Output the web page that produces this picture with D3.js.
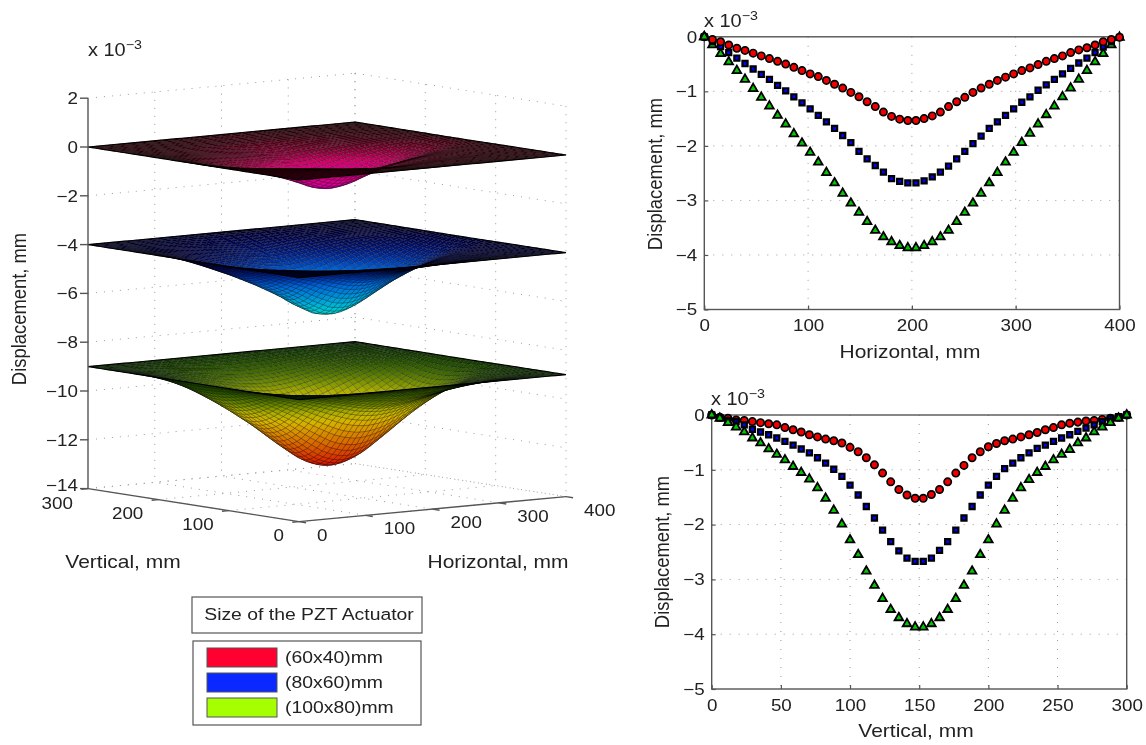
<!DOCTYPE html>
<html><head><meta charset="utf-8">
<style>
html,body{margin:0;padding:0;background:#fff}
svg{display:block;filter:blur(0.7px)}
text{font-family:"Liberation Sans",Arial,sans-serif;fill:#222}
</style>
<script src="https://d3js.org/d3.v7.min.js"></script>
</head><body><svg id="c" width="1146" height="745"></svg>
<script>
// ---- Data (units of 1e-3 mm) ----
const sizeNames = ["(60x40)mm","(80x60)mm","(100x80)mm"];
const legendColors = ["#ff0030","#0a28ff","#a6ff00"];
const legendTitle = "Size of the PZT Actuator";

const horizontalMm = d3.range(52).map(i => i*400/51);
const verticalMm = d3.range(52).map(i => i*300/51);

const horizontal60 = [0,-.05,-.09,-.15,-.21,-.25,-.30,-.35,-.40,-.45,-.50,-.56,-.62,-.68,-.73,-.80,-.87,-.94,-1.02,-1.10,-1.19,-1.28,-1.38,-1.46,-1.51,-1.535,
  -1.535,-1.50,-1.45,-1.38,-1.28,-1.19,-1.11,-1.02,-.94,-.87,-.80,-.74,-.68,-.62,-.57,-.51,-.45,-.40,-.35,-.29,-.24,-.20,-.15,-.09,-.05,-.01];
const horizontal80 = [0,-.09,-.18,-.29,-.39,-.49,-.59,-.69,-.78,-.89,-.99,-1.10,-1.21,-1.32,-1.44,-1.56,-1.68,-1.81,-1.94,-2.10,-2.24,-2.36,-2.48,-2.60,-2.65,-2.68,
  -2.68,-2.64,-2.57,-2.48,-2.37,-2.24,-2.10,-1.96,-1.82,-1.68,-1.56,-1.44,-1.32,-1.20,-1.10,-.98,-.88,-.78,-.68,-.58,-.48,-.39,-.29,-.19,-.09,-.01];
const horizontal100 = [0,-.15,-.31,-.46,-.62,-.78,-.95,-1.11,-1.27,-1.44,-1.60,-1.78,-1.95,-2.12,-2.30,-2.49,-2.68,-2.87,-3.05,-3.22,-3.39,-3.55,-3.67,-3.76,-3.83,-3.87,
  -3.87,-3.83,-3.76,-3.67,-3.55,-3.39,-3.22,-3.05,-2.87,-2.68,-2.49,-2.30,-2.12,-1.94,-1.77,-1.60,-1.43,-1.27,-1.10,-.94,-.78,-.62,-.46,-.31,-.15,-.01];

const vertical60 = [0,-.04,-.06,-.09,-.10,-.12,-.14,-.16,-.18,-.23,-.27,-.31,-.36,-.40,-.44,-.47,-.51,-.59,-.67,-.78,-.91,-1.06,-1.22,-1.36,-1.46,-1.52,
  -1.52,-1.45,-1.36,-1.22,-1.06,-.92,-.78,-.67,-.58,-.52,-.47,-.44,-.40,-.36,-.32,-.27,-.23,-.18,-.15,-.13,-.11,-.10,-.08,-.06,-.04,0];
const vertical80 = [0,-.05,-.10,-.12,-.18,-.26,-.31,-.36,-.42,-.48,-.55,-.62,-.69,-.78,-.88,-.99,-1.12,-1.28,-1.46,-1.67,-1.88,-2.10,-2.31,-2.48,-2.61,-2.67,
  -2.67,-2.61,-2.47,-2.31,-2.10,-1.88,-1.67,-1.46,-1.28,-1.12,-.98,-.88,-.78,-.69,-.61,-.55,-.48,-.42,-.36,-.30,-.24,-.18,-.12,-.06,-.03,0];
const vertical100 = [0,-.06,-.14,-.22,-.31,-.42,-.51,-.62,-.72,-.82,-.94,-1.05,-1.17,-1.33,-1.52,-1.74,-1.99,-2.28,-2.55,-2.85,-3.11,-3.35,-3.55,-3.70,-3.81,-3.87,
  -3.87,-3.81,-3.70,-3.55,-3.35,-3.11,-2.85,-2.55,-2.28,-1.99,-1.74,-1.52,-1.33,-1.18,-1.05,-.94,-.82,-.72,-.63,-.51,-.42,-.31,-.22,-.14,-.06,0];

const surfaceOffsets = [0,-4,-9];
const zTicks = [2,0,-2,-4,-6,-8,-10,-12,-14];
const hTicks3d = [0,100,200,300,400];
const vTicks3d = [0,100,200,300];
const yTicks = [0,-1,-2,-3,-4,-5];
const hTicks2d = [0,100,200,300,400];
const vTicks2d = [0,50,100,150,200,250,300];
// height -> hue of the colormap
const hueStops = [0,-1.5,-4,-5.2,-6.7,-9,-10.3,-12.9];
const hueValues = [345,312,240,212,178,100,60,4];

// ---- Helpers ----
const svg = d3.select("#c");
const XS = 1.14;              // the picture is slightly stretched sideways
const INK = "#555";
function label(x,y,txt,size,anchor){
  return svg.append("text").attr("transform",`translate(${x},${y}) scale(${XS},1)`)
    .attr("text-anchor",anchor||"middle").attr("font-size",size).text(txt);
}
function vlabel(x,y,txt,size){
  return svg.append("text").attr("transform",`translate(${x},${y}) rotate(-90) scale(1,${XS})`)
    .attr("text-anchor","middle").attr("font-size",size).text(txt);
}
function exponent(x,y){
  const t = label(x,y,"x 10",17.5,"start");
  t.append("tspan").attr("dy",-7).attr("font-size",12.5).text("\u22123");
}
const dotted = {stroke:"#9a9a9a","stroke-width":1,"stroke-dasharray":"1 7"};

// ---- 3D panel ----
const hX = d3.scaleLinear([0,400],[0,267]), hY = d3.scaleLinear([0,400],[0,-25]);
const vX = d3.scaleLinear([0,300],[0,-211]), vY = d3.scaleLinear([0,300],[0,-33]);
const zY = d3.scaleLinear([0,-14],[180,521.6]);
const X0 = 299;
const proj = (h,v,z)=>[X0+hX(h)+vX(v), zY(z)+hY(h)+vY(v)];
const line = d3.line();
const g3 = svg.append("g");
function seg(g,a,b,style){
  const p = g.append("path").attr("d",line([a,b])).attr("fill","none");
  Object.entries(style).forEach(([k,v])=>p.attr(k,v));
}
const gridG = g3.append("g");
zTicks.forEach(z=>{
  seg(gridG,proj(0,300,z),proj(400,300,z),dotted);
  seg(gridG,proj(400,300,z),proj(400,0,z),dotted);
});
hTicks3d.forEach(h=>{
  if(h>0) seg(gridG,proj(h,300,2),proj(h,300,-14),dotted);
  seg(gridG,proj(h,0,-14),proj(h,300,-14),dotted);
});
vTicks3d.forEach(v=>{
  seg(gridG,proj(400,v,2),proj(400,v,-14),dotted);
  seg(gridG,proj(0,v,-14),proj(400,v,-14),dotted);
});

const hue = d3.scaleLinear(hueStops,hueValues);
// the fine black mesh darkens the colour most where the sheet is flat near its rim
const shade = d3.scaleLinear([0,.45],[.11,.42]).clamp(true);
const hProfiles = [horizontal60,horizontal80,horizontal100];
const vProfiles = [vertical60,vertical80,vertical100];
surfaceOffsets.forEach((off,s)=>{
  const H = hProfiles[s], V = vProfiles[s], peak = d3.min(H);
  const D = (i,j)=>H[i]*V[j]/peak;
  const quads = [];
  for(let i=50;i>=0;i--) for(let j=50;j>=0;j--){
    const c = [[i,j],[i+1,j],[i+1,j+1],[i,j+1]];
    const d = d3.mean(c,([a,b])=>D(a,b));
    quads.push({
      pts:c.map(([a,b])=>proj(horizontalMm[a],verticalMm[b],off+D(a,b))),
      z:off+d, frac:d/peak
    });
  }
  g3.append("g").selectAll("path").data(quads).join("path")
    .attr("d",d=>line(d.pts)+"Z")
    .attr("fill",d=>d3.hsl(hue(d.z),1,shade(d.frac)).formatHex())
    .attr("stroke","#000").attr("stroke-opacity",.45).attr("stroke-width",.5).attr("stroke-linejoin","round");
  // dark rim of the sheet
  const rim = [];
  d3.range(52).forEach(i=>rim.push(proj(horizontalMm[i],0,off+D(i,0))));
  d3.range(52).forEach(j=>rim.push(proj(horizontalMm[51],verticalMm[j],off+D(51,j))));
  d3.range(51,-1,-1).forEach(i=>rim.push(proj(horizontalMm[i],300,off+D(i,51))));
  d3.range(51,-1,-1).forEach(j=>rim.push(proj(0,verticalMm[j],off+D(0,j))));
  g3.append("path").attr("d",line(rim)+"Z").attr("fill","none").attr("stroke","#000").attr("stroke-width",1.1);
});

const solid = {stroke:INK,"stroke-width":1.4};
seg(g3,proj(0,300,2),proj(0,300,-14),solid);
seg(g3,proj(0,300,-14),proj(0,0,-14),solid);
seg(g3,proj(0,0,-14),proj(400,0,-14),solid);
zTicks.forEach(z=>{const p=proj(0,300,z);seg(g3,p,[p[0]-8,p[1]],solid);});
hTicks3d.forEach(h=>seg(g3,proj(h,0,-14),proj(h,-10,-14),solid));
vTicks3d.forEach(v=>seg(g3,proj(0,v,-14),proj(-10,v,-14),solid));
zTicks.forEach(z=>{
  const p = proj(0,300,z);
  label(p[0]-10,p[1]+(z===-14?2.5:6),d3.format("d")(z),16.5,"end");
});
hTicks3d.forEach(h=>{const p=proj(h,0,-14);label(p[0]+18,p[1]+19,h,16.5,"start");});
vTicks3d.forEach(v=>{const p=proj(0,v,-14);label(p[0]-15,p[1]+(v===300?20.5:19),v,16.5,"end");});
exponent(88,56);
vlabel(26,309,"Displacement, mm",18.4);
label(123,568,"Vertical, mm",18.4);
label(498,568,"Horizontal, mm",18.4);

// ---- 2D panels ----
const markerStyles = [
  {sym:d3.symbolCircle,size:42,fill:"#f00000",sw:1.7},
  {sym:d3.symbolSquare,size:26,fill:"#0000ff",sw:2.2},
  {sym:d3.symbolTriangle,size:32,fill:"#00c800",sw:1.8}
];
function panel(o){
  const g = svg.append("g");
  const x = d3.scaleLinear([0,o.max],[o.x0,o.x1]);
  const y = d3.scaleLinear([0,-5],[o.y0,o.y1]);
  const dot = {stroke:"#9a9a9a","stroke-width":1,"stroke-dasharray":"1 8"};
  o.xt.slice(1,-1).forEach(t=>seg(g,[x(t),o.y0],[x(t),o.y1],dot));
  o.yt.slice(1,-1).forEach(t=>seg(g,[o.x0,y(t)],[o.x1,y(t)],dot));
  const ax = g.append("g").attr("transform",`translate(0,${o.y1})`)
    .call(d3.axisBottom(x).tickValues(o.xt).tickFormat(d3.format("d")).tickSize(-4).tickSizeOuter(0));
  const ay = g.append("g").attr("transform",`translate(${o.x0},0)`)
    .call(d3.axisLeft(y).tickValues(o.yt).tickFormat(d3.format("d")).tickSize(-4).tickSizeOuter(0));
  [ax,ay].forEach(a=>{
    a.selectAll(".domain").remove();
    a.selectAll("line").attr("stroke",INK).attr("stroke-width",1.2);
    a.selectAll("text").attr("font-size",16.5).attr("fill","#222")
      .attr("font-family",'"Liberation Sans",Arial,sans-serif')
      .attr("transform",`scale(${XS},1)`);
  });
  ax.selectAll(".tick text").attr("y",10).attr("dy","0.71em");
  ay.selectAll("text").attr("x",-7/XS);
  g.append("rect").attr("x",o.x0).attr("y",o.y0).attr("width",o.x1-o.x0).attr("height",o.y1-o.y0)
    .attr("fill","none").attr("stroke",INK).attr("stroke-width",1.4);
  const symPath = i=>d3.symbol(markerStyles[i].sym,markerStyles[i].size)();
  o.order.forEach(s=>{
    const st = markerStyles[s];
    g.append("g").selectAll("path").data(o.series[s]).join("path")
      .attr("d",symPath(s))
      .attr("transform",(d,i)=>`translate(${x(o.xs[i])},${y(d)})`)
      .attr("fill",st.fill).attr("stroke","#000").attr("stroke-width",st.sw);
  });
  if(o.raise!==undefined){
    const s=o.raise, st=markerStyles[s];
    g.append("path").attr("d",symPath(s)).attr("transform",`translate(${x(0)},${y(o.series[s][0])})`)
      .attr("fill",st.fill).attr("stroke","#000").attr("stroke-width",st.sw);
  }
}
panel({x0:704.3,x1:1119.5,y0:36.8,y1:309.5,max:400,xt:hTicks2d,yt:yTicks,xs:horizontalMm,
  series:[horizontal60,horizontal80,horizontal100],order:[2,1,0],raise:2});
panel({x0:711.7,x1:1126.7,y0:415,y1:689,max:300,xt:vTicks2d,yt:yTicks,xs:verticalMm,
  series:[vertical60,vertical80,vertical100],order:[0,1,2]});
exponent(704,27);
exponent(711,405);
vlabel(662,174,"Displacement, mm",18.4);
vlabel(669,552,"Displacement, mm",18.4);
label(910,358,"Horizontal, mm",18.4);
label(916,737,"Vertical, mm",18.4);

// ---- Legend ----
svg.append("rect").attr("x",192).attr("y",597).attr("width",230).attr("height",36)
  .attr("fill","#fff").attr("stroke",INK).attr("stroke-width",1.2);
label(309,620,legendTitle,17,"middle");
svg.append("rect").attr("x",193).attr("y",641).attr("width",228).attr("height",84)
  .attr("fill","#fff").attr("stroke",INK).attr("stroke-width",1.2);
sizeNames.forEach((n,i)=>{
  const y = d3.scaleLinear([0,2],[648,698])(i);
  svg.append("rect").attr("x",207).attr("y",y).attr("width",70).attr("height",19)
    .attr("fill",legendColors[i]).attr("stroke","#555").attr("stroke-width",1);
  label(285,y+15,n,17,"start");
});
</script></body></html>
